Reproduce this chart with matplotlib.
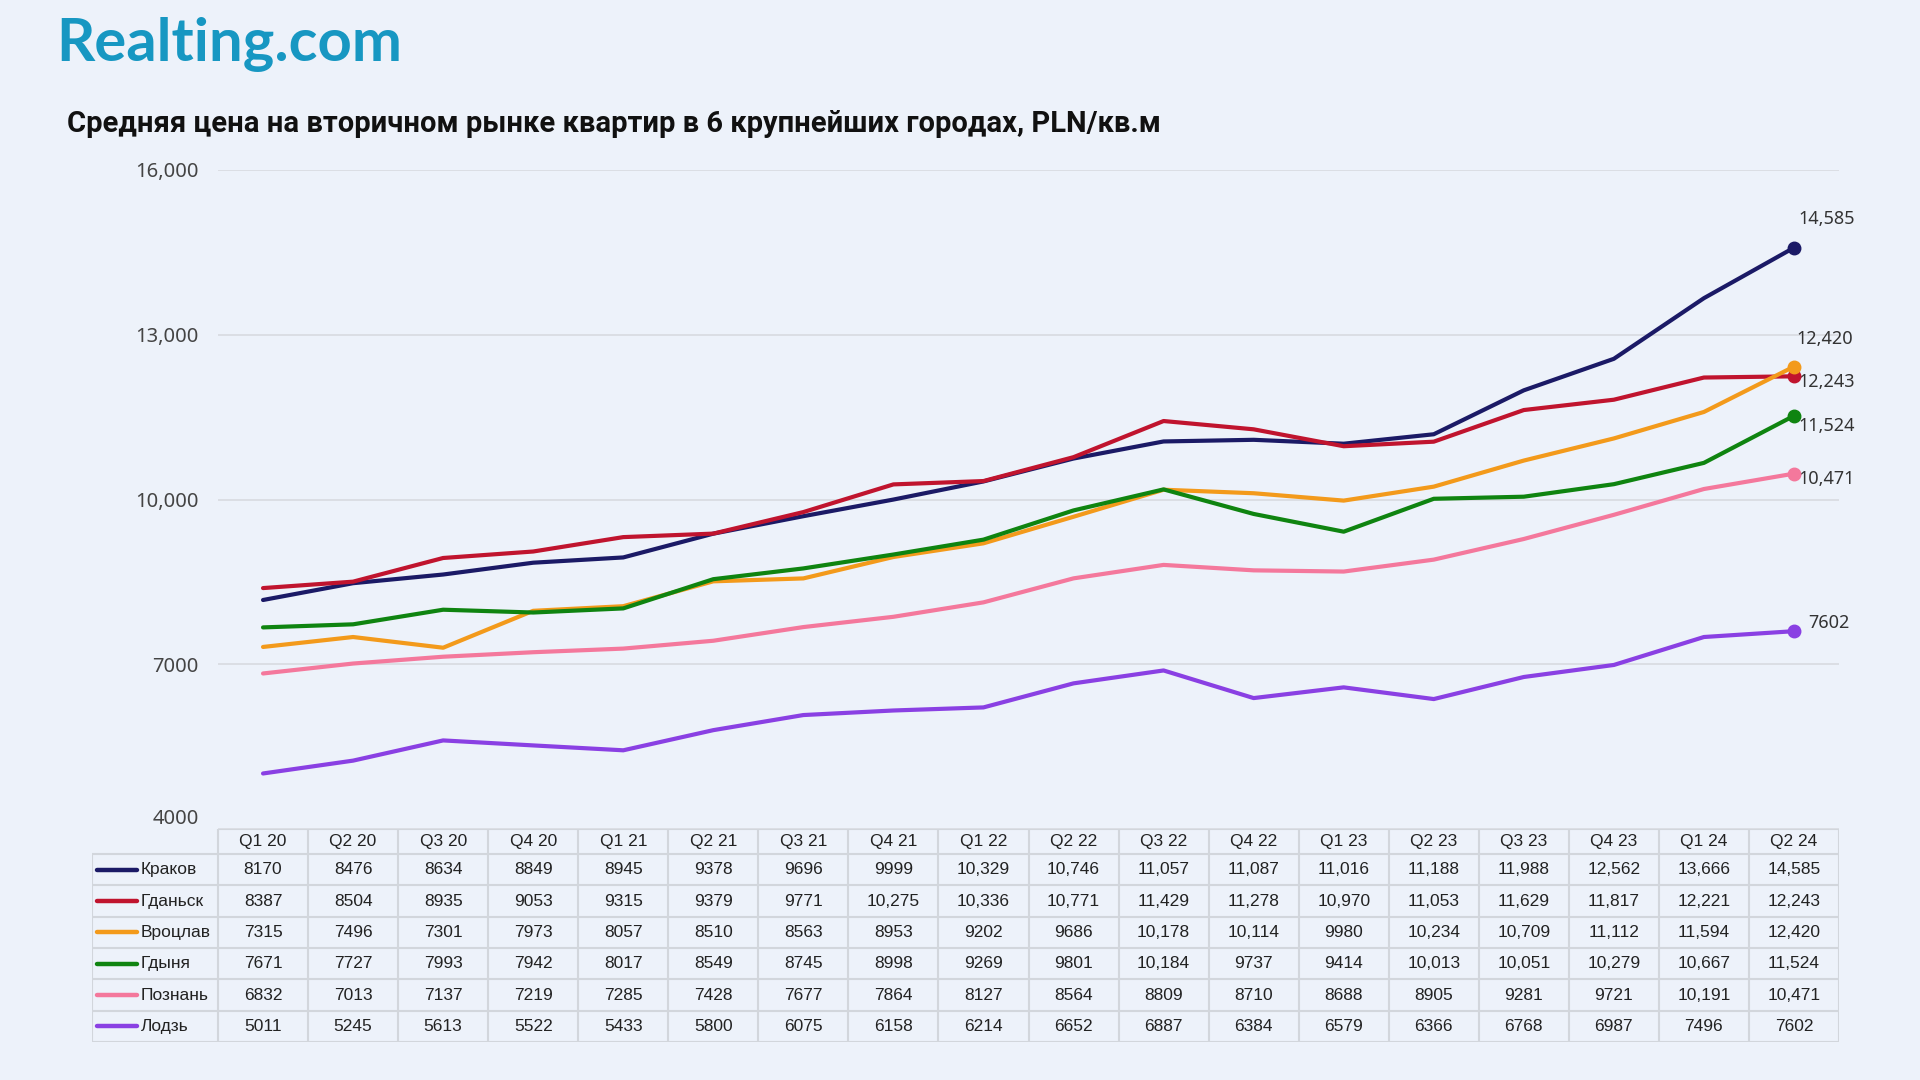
import matplotlib
matplotlib.use("Agg")
import matplotlib.pyplot as plt

# ---------------- data ----------------
quarters = ['Q1 20', 'Q2 20', 'Q3 20', 'Q4 20', 'Q1 21', 'Q2 21', 'Q3 21', 'Q4 21',
            'Q1 22', 'Q2 22', 'Q3 22', 'Q4 22', 'Q1 23', 'Q2 23', 'Q3 23', 'Q4 23',
            'Q1 24', 'Q2 24']
cities = ['Краков', 'Гданьск', 'Вроцлав', 'Гдыня', 'Познань', 'Лодзь']
krakow = [8170, 8476, 8634, 8849, 8945, 9378, 9696, 9999, 10329, 10746, 11057, 11087,
          11016, 11188, 11988, 12562, 13666, 14585]
gdansk = [8387, 8504, 8935, 9053, 9315, 9379, 9771, 10275, 10336, 10771, 11429, 11278,
          10970, 11053, 11629, 11817, 12221, 12243]
wroclaw = [7315, 7496, 7301, 7973, 8057, 8510, 8563, 8953, 9202, 9686, 10178, 10114,
           9980, 10234, 10709, 11112, 11594, 12420]
gdynia = [7671, 7727, 7993, 7942, 8017, 8549, 8745, 8998, 9269, 9801, 10184, 9737,
          9414, 10013, 10051, 10279, 10667, 11524]
poznan = [6832, 7013, 7137, 7219, 7285, 7428, 7677, 7864, 8127, 8564, 8809, 8710,
          8688, 8905, 9281, 9721, 10191, 10471]
lodz = [5011, 5245, 5613, 5522, 5433, 5800, 6075, 6158, 6214, 6652, 6887, 6384,
        6579, 6366, 6768, 6987, 7496, 7602]
series = [krakow, gdansk, wroclaw, gdynia, poznan, lodz]
yticks = [4000, 7000, 10000, 13000, 16000]

title = 'Средняя цена на вторичном рынке квартир в 6 крупнейших городах, PLN/кв.м'
logo = 'Realting.com'

# ---------------- style ----------------
colors = ['#1B1A66', '#C0142E', '#F39A1B', '#0F8410', '#F4789C', '#8A40E3']
end_offsets = [(3, 21), (3, -4), (2, 20), (3, -7), (3, -4), (10, 6)]
BG = '#EDF2FA'
GRID = '#D8DBE0'
BORDER = '#D2D6DC'


def fmt(v):
    return f'{v:,}' if v >= 10000 else str(v)


W, H = 1920, 1080
fig = plt.figure(figsize=(W / 100, H / 100), dpi=100, facecolor=BG)

# logo + title
fig.text(56 / W, 1 - 61 / H, logo, fontsize=43, fontweight='bold', family='Lato',
         color='#1797C2', ha='left', va='baseline')
fig.text(67 / W, 1 - 124 / H, title, fontsize=21, fontweight='bold',
         family=['Roboto', 'DejaVu Sans'], color='#111111', ha='left', va='center')

# ---------------- line chart ----------------
L, R, T, B = 218, 1839, 170, 829
ax = fig.add_axes([L / W, 1 - B / H, (R - L) / W, (B - T) / H])
ax.set_facecolor('none')
n = len(quarters)
x = list(range(n))
for s, c in zip(series, colors):
    ax.plot(x, s, color=c, lw=3.0, solid_capstyle='round', zorder=3)
    ax.plot([x[-1]], [s[-1]], 'o', color=c, ms=9, zorder=4)
for i in range(len(series)):
    s = series[i]
    ax.annotate(fmt(s[-1]), xy=(x[-1], s[-1]), xytext=end_offsets[i],
                textcoords='offset points', ha='left', va='center',
                fontsize=13, family='Noto Sans', color='#333333')
ax.set_xlim(-0.5, n - 0.5)
ax.set_ylim(4000, 16000)
ax.set_yticks(yticks)
ax.set_yticklabels([fmt(v) for v in yticks], fontsize=14.5, family='Noto Sans',
                   color='#444444')
ax.tick_params(axis='y', length=0, pad=14)
ax.set_xticks([])
ax.grid(axis='y', color=GRID, lw=1.2, zorder=0)
for sp in ax.spines.values():
    sp.set_visible(False)
ax.get_yticklabels()[0].set_va('bottom')

# ---------------- data table ----------------
TL, TT, TB = 92, 829, 1042
lab_w = (L - TL) / ((R - L) / n)   # label column width in column units
tax = fig.add_axes([TL / W, 1 - TB / H, (R - TL) / W, (TB - TT) / H])
tax.set_facecolor('none')
tax.axis('off')
hdr = 0.8
nrows = len(series)
x0 = -0.5 - lab_w
tax.set_xlim(x0, n - 0.5)
tax.set_ylim(hdr + nrows, 0)

# borders
tax.hlines(0, -0.5, n - 0.5, color=BORDER, lw=1.5)
for r in range(nrows + 1):
    tax.hlines(hdr + r, x0, n - 0.5, color=BORDER, lw=1.5)
tax.vlines(x0, hdr, hdr + nrows, color=BORDER, lw=1.5)
for k in range(n + 1):
    tax.vlines(-0.5 + k, 0, hdr + nrows, color=BORDER, lw=1.5)

FS = 12.5
for j, q in enumerate(quarters):
    tax.text(j, hdr / 2, q, ha='center', va='center', fontsize=FS,
             family='Liberation Sans', color='#222222')
for r, (name, s, c) in enumerate(zip(cities, series, colors)):
    yc = hdr + r + 0.5
    tax.plot([x0 + 0.05, x0 + 0.5], [yc, yc], color=c, lw=3.2, solid_capstyle='round')
    tax.text(x0 + 0.54, yc, name, ha='left', va='center', fontsize=FS,
             family='Liberation Sans', color='#222222')
    for j, v in enumerate(s):
        tax.text(j, yc, fmt(v), ha='center', va='center', fontsize=FS,
                 family='Liberation Sans', color='#222222')

fig.savefig('out.png', dpi=100, facecolor=BG)
